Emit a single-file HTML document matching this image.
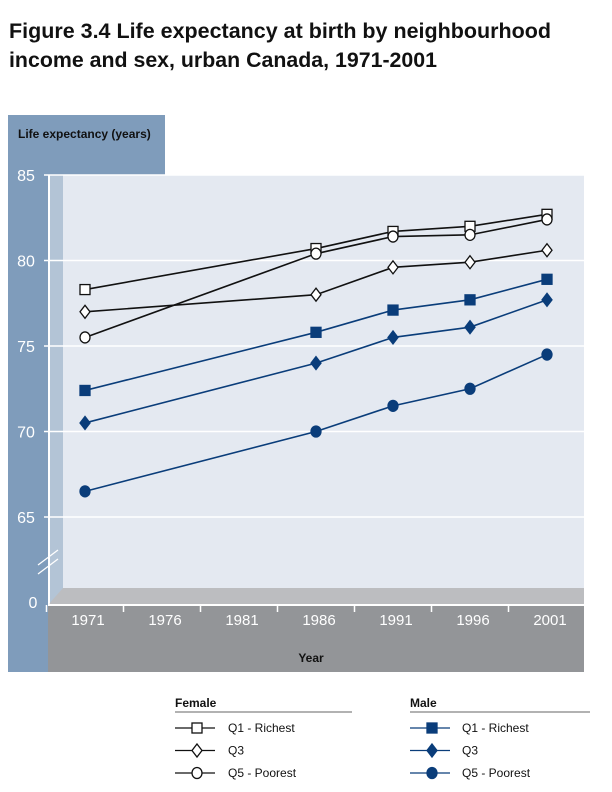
<!DOCTYPE html>
<html><head><meta charset="utf-8"><style>
body{margin:0;background:#fff}
svg{display:block;font-family:"Liberation Sans",sans-serif}
</style></head><body>
<svg id="chart" width="612" height="792" viewBox="0 0 612 792">
<text x="9" y="38" font-size="21" font-weight="bold" fill="#111" textLength="542" lengthAdjust="spacingAndGlyphs">Figure 3.4 Life expectancy at birth by neighbourhood</text>
<text x="9" y="67" font-size="21" font-weight="bold" fill="#111" textLength="428" lengthAdjust="spacingAndGlyphs">income and sex, urban Canada, 1971-2001</text>
<rect x="8" y="115" width="157" height="60" fill="#7f9cbb"/>
<rect x="8" y="175" width="40" height="497" fill="#7f9cbb"/>
<text x="18" y="138" font-size="12" font-weight="bold" fill="#111">Life expectancy (years)</text>
<rect x="48" y="175" width="536" height="430" fill="#ffffff"/>
<rect x="50" y="175" width="13" height="430" fill="#b3c4d6"/>
<rect x="63" y="175" width="521" height="413" fill="#e4e9f1"/>
<polygon points="63,588 584,588 584,605 48,605" fill="#bcbdc0"/>
<rect x="48" y="605" width="536" height="67" fill="#939598"/>
<line x1="48" y1="605" x2="584" y2="605" stroke="#fff" stroke-width="2"/>
<line x1="49" y1="175" x2="49" y2="605" stroke="#fff" stroke-width="1.5"/>
<g id="grid"></g><g id="xaxis"></g><g id="series"></g>
<text x="33" y="608" font-size="16" fill="#fff" text-anchor="middle">0</text>
<g stroke="#fff" stroke-width="1.3">
<line x1="38" y1="565" x2="58" y2="550"/><line x1="38" y1="574" x2="58" y2="559"/></g>
<text x="311" y="662" font-size="12" font-weight="bold" fill="#111" text-anchor="middle">Year</text>
<g id="legend"></g>
</svg>
<script>
const years=[1971,1976,1981,1986,1991,1996,2001];
const dataYears=[1971,1986,1991,1996,2001];
const femaleQ1=[78.3,80.7,81.7,82.0,82.7];
const femaleQ3=[77.0,78.0,79.6,79.9,80.6];
const femaleQ5=[75.5,80.4,81.4,81.5,82.4];
const maleQ1=[72.4,75.8,77.1,77.7,78.9];
const maleQ3=[70.5,74.0,75.5,76.1,77.7];
const maleQ5=[66.5,70.0,71.5,72.5,74.5];
const yTicks=[65,70,75,80,85];
const NS="http://www.w3.org/2000/svg";
const X=y=>85+(y-1971)*(462/30);
const Y=v=>175+(85-v)*17.1;
function mk(t,a,p){const e=document.createElementNS(NS,t);for(const k in a)e.setAttribute(k,a[k]);p.appendChild(e);return e;}
const grid=document.getElementById('grid');
yTicks.forEach(v=>{
  const l=mk('line',{x1:44,x2:584,y1:Y(v),y2:Y(v),stroke:'#fff','stroke-width':1.5},grid);
  
  
  const t=mk('text',{x:26,y:Y(v)+6,'font-size':16,fill:'#fff','text-anchor':'middle'},grid);
  t.textContent=v;
  
  
});
const xa=document.getElementById('xaxis');
years.forEach((yr,i)=>{
  const tk=mk('line',{x1:X(yr)-38.5,x2:X(yr)-38.5,y1:605,y2:612,stroke:'#fff','stroke-width':1.5},xa);
  
  
  const t=mk('text',{x:X(yr)+3,y:625,'font-size':15,fill:'#fff','text-anchor':'middle'},xa);
  t.textContent=yr;
  
  
});
mk('line',{x1:X(2001)+38.5,x2:X(2001)+38.5,y1:605,y2:612,stroke:'#fff','stroke-width':1.5},xa);
const NAVY='#0a3d7a';
function marker(shape,x,y,col,filled,p){
  const f=filled?col:'#fff';let m;
  if(shape==='sq')m=mk('rect',{x:x-5,y:y-5,width:10,height:10,fill:f,stroke:col,'stroke-width':1.3},p);
  else if(shape==='di')m=mk('polygon',{points:`${x},${y-6.5} ${x+5},${y} ${x},${y+6.5} ${x-5},${y}`,fill:f,stroke:col,'stroke-width':1.3},p);
  else m=mk('ellipse',{cx:x,cy:y,rx:5,ry:5.5,fill:f,stroke:col,'stroke-width':1.3},p);
  return m;
}
const ser=[['female-q1',femaleQ1,'sq','#111',false],['female-q3',femaleQ3,'di','#111',false],['female-q5',femaleQ5,'ci','#111',false],
['male-q1',maleQ1,'sq',NAVY,true],['male-q3',maleQ3,'di',NAVY,true],['male-q5',maleQ5,'ci',NAVY,true]];
const sg=document.getElementById('series');
ser.forEach(([n,vals,sh,col,fil])=>{
  const g=mk('g',{},sg);
  
  
  const pl=mk('polyline',{points:vals.map((v,i)=>X(dataYears[i])+','+Y(v)).join(' '),fill:'none',stroke:col,'stroke-width':1.6},g);
  
  
  vals.forEach((v,i)=>{
    const m=marker(sh,X(dataYears[i]),Y(v),col,fil,g);
    
    
  });
});
const lg=document.getElementById('legend');
const heads=[['Female',175,352],['Male',410,590]];
heads.forEach(([h,x0,x1])=>{
  const t=mk('text',{x:x0,y:707,'font-size':12,'font-weight':'bold',fill:'#111'},lg);
  t.textContent=h;
  
  
  mk('line',{x1:x0,x2:x1,y1:712,y2:712,stroke:'#333','stroke-width':0.8},lg);
});
const labels=['Q1 - Richest','Q3','Q5 - Poorest'];
ser.forEach(([n,vals,sh,col,fil],i)=>{
  const male=i>=3;const x0=male?410:175;const ly=728+(i%3)*22.5;
  const g=mk('g',{},lg);
  
  
  mk('line',{x1:x0,x2:x0+40,y1:ly,y2:ly,stroke:col,'stroke-width':1.3},g);
  marker(sh,x0+22,ly,col,fil,g);
  const t=mk('text',{x:male?462:228,y:ly+4,'font-size':12,fill:'#111'},g);
  t.textContent=labels[i%3];
});
</script>
</body></html>
